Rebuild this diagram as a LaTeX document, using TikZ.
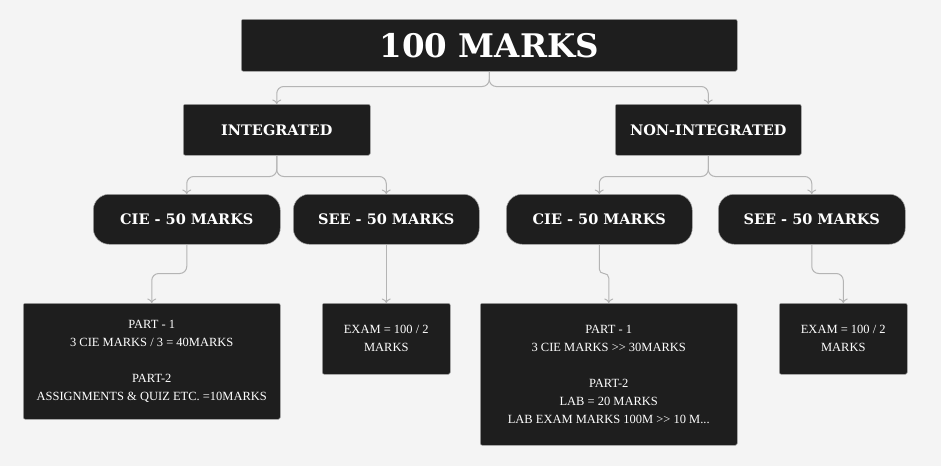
\documentclass[tikz,border=0pt]{standalone}
\usepackage{fontspec}
\setmainfont{DejaVu Serif}
\newfontfamily\bodyfont{Liberation Serif}
\usetikzlibrary{arrows.meta}

\definecolor{canvas}{HTML}{F4F4F4}
\definecolor{boxfill}{HTML}{1E1E1E}
\definecolor{boxline}{HTML}{A8A8A8}
\definecolor{wire}{HTML}{B4B4B4}

\tikzset{
  base/.style={fill=boxfill, draw=boxline, line width=0.5pt, text=white,
    inner sep=0pt, align=center, anchor=north west},
  titlebox/.style={base, rounded corners=2pt,
    font=\fontsize{32.5}{38}\selectfont\bfseries},
  headbox/.style={base, rounded corners=2pt,
    font=\fontsize{14.5}{17}\selectfont\bfseries},
  pillbox/.style={base, rounded corners=16pt,
    font=\fontsize{14.5}{17}\selectfont\bfseries},
  notebox/.style={base, rounded corners=2pt,
    font=\bodyfont\fontsize{12.5}{18}\selectfont},
  wirearrow/.style={draw=wire, line width=1pt, rounded corners=7pt,
    -{To[length=4.5pt,width=9pt]}},
}

\begin{document}
\begin{tikzpicture}[x=1pt, y=-1pt]
  \fill[canvas] (0,0) rectangle (941,466);
  \useasboundingbox (0,0) rectangle (941,466);

  % top level
  \node[titlebox, minimum width=496pt, minimum height=52pt] (total) at (241,19) {100 MARKS};

  % second level
  \node[headbox, minimum width=187pt, minimum height=51pt] (integ) at (183,104) {INTEGRATED};
  \node[headbox, minimum width=186pt, minimum height=51pt] (noninteg) at (615,104) {NON-INTEGRATED};

  % third level
  \node[pillbox, minimum width=187pt, minimum height=50pt] (cieA) at (93,194) {CIE - 50 MARKS};
  \node[pillbox, minimum width=186pt, minimum height=50pt] (seeA) at (293,194) {SEE - 50 MARKS};
  \node[pillbox, minimum width=186pt, minimum height=50pt] (cieB) at (506,194) {CIE - 50 MARKS};
  \node[pillbox, minimum width=187pt, minimum height=50pt] (seeB) at (718,194) {SEE - 50 MARKS};

  % details
  \node[notebox, minimum width=257pt, minimum height=116pt] (cieAnote) at (23,303)
    {PART - 1\\3 CIE MARKS / 3 = 40MARKS\\[18pt]PART-2\\ASSIGNMENTS \& QUIZ ETC. =10MARKS};
  \node[notebox, minimum width=128pt, minimum height=71pt] (seeAnote) at (322,303)
    {EXAM = 100 / 2\\MARKS};
  \node[notebox, minimum width=257pt, minimum height=142pt] (cieBnote) at (480,303)
    {PART - 1\\3 CIE MARKS >> 30MARKS\\[18pt]PART-2\\LAB = 20 MARKS\\LAB EXAM MARKS 100M >> 10 M...};
  \node[notebox, minimum width=128pt, minimum height=71pt] (seeBnote) at (779,303)
    {EXAM = 100 / 2\\MARKS};

  % connectors (yshift is in page units, so negative moves down)
  \coordinate (j0) at ([yshift=-15pt]total.south);
  \draw[wirearrow] (total.south) -- (j0) -| (integ.north);
  \draw[wirearrow] (total.south) -- (j0) -| (noninteg.north);

  \coordinate (j1) at ([yshift=-21pt]integ.south);
  \draw[wirearrow] (integ.south) -- (j1) -| (cieA.north);
  \draw[wirearrow] (integ.south) -- (j1) -| (seeA.north);

  \coordinate (j2) at ([yshift=-21pt]noninteg.south);
  \draw[wirearrow] (noninteg.south) -- (j2) -| (cieB.north);
  \draw[wirearrow] (noninteg.south) -- (j2) -| (seeB.north);

  \coordinate (k1) at ([yshift=-29pt]cieA.south);
  \draw[wirearrow] (cieA.south) -- (k1) -| (cieAnote.north);
  \draw[wirearrow] (seeA.south) -- (seeAnote.north);
  \coordinate (k2) at ([yshift=-29pt]cieB.south);
  \draw[wirearrow, rounded corners=4.5pt] (cieB.south) -- (k2) -| (cieBnote.north);
  \coordinate (k3) at ([yshift=-29pt]seeB.south);
  \draw[wirearrow] (seeB.south) -- (k3) -| (seeBnote.north);
\end{tikzpicture}
\end{document}
